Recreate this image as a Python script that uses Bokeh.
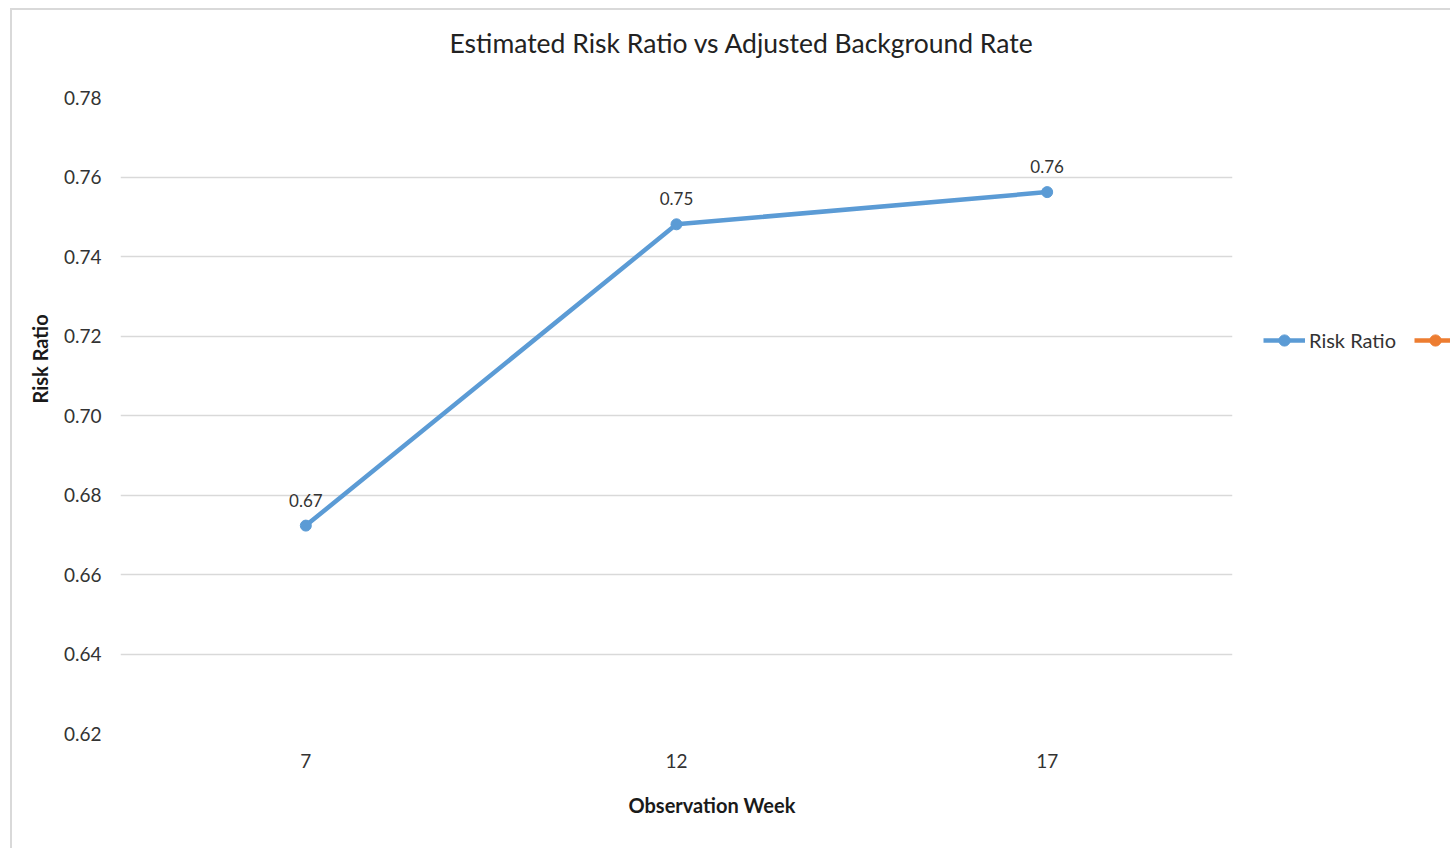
from bokeh.plotting import figure
from bokeh.models import (ColumnDataSource, Range1d, FactorRange, FixedTicker,
                          NumeralTickFormatter, Legend, LegendItem, Title,
                          LabelSet)
from bokeh.embed import file_html
from bokeh.resources import INLINE
from bokeh.core.properties import value

# ---- data ----
weeks = ["7", "12", "17"]
risk_ratio = [0.6723, 0.7481, 0.7562]
risk_labels = ["0.67", "0.75", "0.76"]
background_rate = [float("nan"), float("nan"), float("nan")]  # off-scale, not visible
y_ticks = [0.62, 0.64, 0.66, 0.68, 0.70, 0.72, 0.74, 0.76, 0.78]
title_text = "Estimated Risk Ratio vs Adjusted Background Rate"
x_title = "Observation Week"
y_title = "Risk Ratio"
series_names = ["Risk Ratio", " "]

FONT = "Lato"
TXT = "#333333"
TITLE_C = "#222222"
BLUE = "#5b9bd5"
ORANGE = "#ed7d31"

src = ColumnDataSource(dict(week=weeks, rr=risk_ratio, lab=risk_labels))
src2 = ColumnDataSource(dict(week=weeks, v=background_rate))

p = figure(x_range=FactorRange(*weeks, range_padding=0),
           y_range=Range1d(0.62, 0.78),
           frame_width=1112, frame_height=636,
           min_border_left=108, min_border_top=87,
           min_border_bottom=115, min_border_right=218,
           output_backend="svg", toolbar_location=None,
           background_fill_color="white", border_fill_color="white")
p.outline_line_color = None
p.styles = {"border-left": "2px solid #d9d9d9",
            "border-top": "2px solid #d9d9d9",
            "margin-left": "10px", "margin-top": "8px"}

# axes
p.yaxis.ticker = FixedTicker(ticks=y_ticks)
p.yaxis.formatter = NumeralTickFormatter(format="0.00")
for ax in (p.xaxis[0], p.yaxis[0]):
    ax.axis_line_color = None
    ax.major_tick_line_color = None
    ax.minor_tick_line_color = None
    ax.major_tick_out = 0
    ax.major_tick_in = 0
    ax.minor_tick_out = 0
    ax.minor_tick_in = 0
    ax.major_label_text_font = FONT
    ax.major_label_text_font_size = "19px"
    ax.major_label_text_color = TXT
p.yaxis.major_label_standoff = 19
p.xaxis.major_label_standoff = 20

p.xgrid.grid_line_color = None
p.ygrid.grid_line_color = "#d9d9d9"
p.ygrid.grid_line_width = 1.3

# axis titles (side titles so they can be positioned like the original)
p.add_layout(Title(text=y_title, align="left", offset=330, standoff=18,
                   text_font=FONT, text_font_size="20px",
                   text_font_style="bold", text_color="#1a1a1a"), "left")
p.add_layout(Title(text=x_title, align="left", offset=508, standoff=44,
                   vertical_align="top",
                   text_font=FONT, text_font_size="20px",
                   text_font_style="bold", text_color="#1a1a1a"), "below")

# chart title with a spacer between it and the plot area
p.add_layout(Title(text=" ", text_font_size="1px", standoff=36), "above")
p.add_layout(Title(text=title_text, align="left", offset=329, standoff=0,
                   text_font=FONT, text_font_size="26.5px",
                   text_font_style="normal", text_color=TITLE_C), "above")

# series
r_line = p.line("week", "rr", source=src, line_color=BLUE, line_width=4.5)
r_pts = p.scatter("week", "rr", source=src, size=11, fill_color=BLUE,
                  line_color=BLUE)

labels = LabelSet(x="week", y="rr", text="lab", source=src,
                  y_offset=19, text_align="center", text_baseline="bottom",
                  text_font=value(FONT), text_font_size="17px",
                  text_color=TXT)
p.add_layout(labels)

o_line = p.line("week", "v", source=src2, line_color=ORANGE, line_width=4.5)
o_pts = p.scatter("week", "v", source=src2, size=11, fill_color=ORANGE,
                  line_color=ORANGE)

legend = Legend(items=[LegendItem(label=series_names[0], renderers=[r_line, r_pts]),
                       LegendItem(label=series_names[1], renderers=[o_line, o_pts])],
                orientation="horizontal", location=(31, 379),
                glyph_width=42, glyph_height=28, label_standoff=4,
                spacing=18, padding=0, margin=0,
                border_line_color=None, background_fill_alpha=0,
                label_text_font=FONT, label_text_font_size="20px",
                label_text_color=TXT)
p.add_layout(legend, "right")

open("out.html", "w").write(file_html(p, INLINE))
